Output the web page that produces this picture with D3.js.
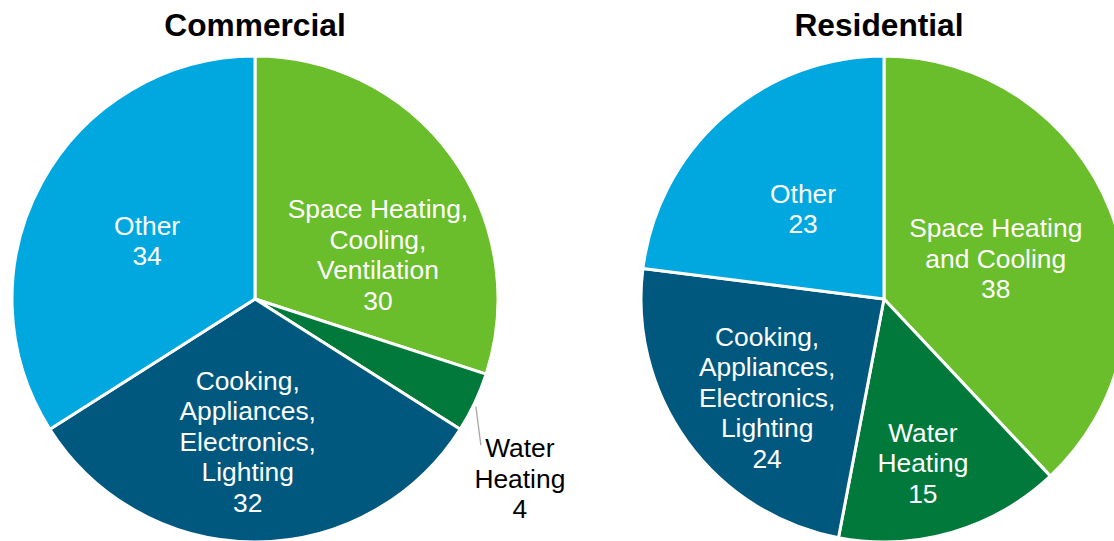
<!DOCTYPE html>
<html>
<head>
<meta charset="utf-8">
<script src="https://cdn.jsdelivr.net/npm/d3@7"></script>
<style>
  html, body { margin: 0; padding: 0; background: #fff; }
  svg { display: block; font-family: Arial, "Liberation Sans", sans-serif; }
</style>
</head>
<body>
<svg id="chart" width="1114" height="541"></svg>
<script>
// Energy end-use shares (percent) by sector
const categories = ["Space Heating", "Water Heating", "Cooking, Appliances, Electronics, Lighting", "Other"];
const commercialValues = [30, 4, 32, 34];
const residentialValues = [38, 15, 24, 23];

const commercialLabels = [
  ["Space Heating,", "Cooling,", "Ventilation"],
  ["Water", "Heating"],
  ["Cooking,", "Appliances,", "Electronics,", "Lighting"],
  ["Other"]
];
const residentialLabels = [
  ["Space Heating", "and Cooling"],
  ["Water", "Heating"],
  ["Cooking,", "Appliances,", "Electronics,", "Lighting"],
  ["Other"]
];

const colors = ["#6abd2b", "#00793a", "#00587e", "#00a8df"];

const svg = d3.select("#chart");
const R = 243;
const lineH = 30.5;

// Label block centres, as offsets from the pie centre in units of radius
const panels = [
  {
    title: "Commercial", titleX: 255, cx: 255, cy: 299, values: commercialValues, labels: commercialLabels,
    labelPos: [[0.506, -0.181], [1.09, 0.74], [-0.03, 0.588], [-0.444, -0.239]],
    outside: [false, true, false, false]
  },
  {
    title: "Residential", titleX: 879, cx: 884, cy: 299, values: residentialValues, labels: residentialLabels,
    labelPos: [[0.46, -0.165], [0.16, 0.675], [-0.481, 0.407], [-0.333, -0.37]],
    outside: [false, false, false, false]
  }
];

const pie = d3.pie().sort(null).value(d => d);
const arc = d3.arc().innerRadius(0).outerRadius(R);

panels.forEach(p => {
  const g = svg.append("g").attr("transform", `translate(${p.cx},${p.cy})`);
  const arcs = pie(p.values);

  g.selectAll("path.slice")
    .data(arcs)
    .join("path")
    .attr("class", "slice")
    .attr("d", arc)
    .attr("fill", (d, i) => colors[i])
    .attr("stroke", "#fff")
    .attr("stroke-width", 3)
    .attr("stroke-linejoin", "round");

  svg.append("text")
    .attr("x", p.titleX)
    .attr("y", 36)
    .attr("text-anchor", "middle")
    .attr("font-weight", "bold")
    .attr("font-size", 31.7)
    .attr("fill", "#000")
    .text(p.title);

  arcs.forEach((d, i) => {
    const lines = p.labels[i].concat([String(d.data)]);
    const [fx, fy] = p.labelPos[i];
    const lx = fx * R, ly = fy * R;
    const outside = p.outside[i];

    if (outside) {
      // leader from the slice edge to the label
      const mid = (d.startAngle + d.endAngle) / 2;
      const x0 = Math.sin(mid) * R, y0 = -Math.cos(mid) * R;
      const topY = ly - (lines.length - 1) * lineH / 2 - lineH / 2;
      g.append("line")
        .attr("x1", x0 + 1).attr("y1", y0 + 4)
        .attr("x2", lx - 39).attr("y2", topY + 12)
        .attr("stroke", "#a6a6a6")
        .attr("stroke-width", 1.3);
    }

    const t = g.append("text")
      .attr("text-anchor", "middle")
      .attr("font-size", 26.4)
      .attr("fill", outside ? "#000" : "#fff");
    lines.forEach((s, k) => {
      t.append("tspan")
        .attr("x", lx)
        .attr("y", ly + (k - (lines.length - 1) / 2) * lineH + 9)
        .text(s);
    });
  });
});
</script>
</body>
</html>
